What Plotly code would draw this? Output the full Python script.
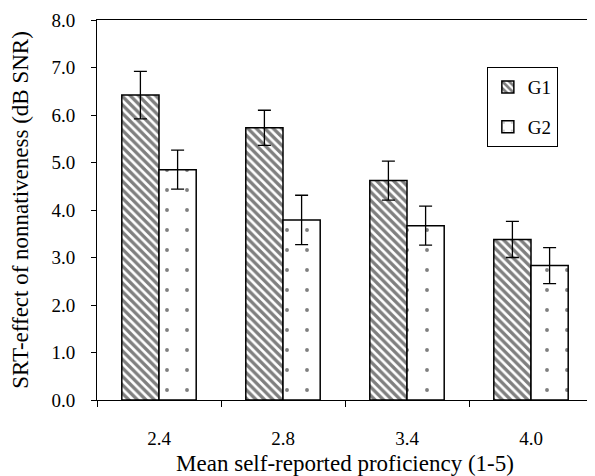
import plotly.graph_objects as go

categories = ["2.4", "2.8", "3.4", "4.0"]
g1_values = [6.42, 5.73, 4.62, 3.38]
g1_errors = [0.50, 0.37, 0.41, 0.38]
g2_values = [4.85, 3.79, 3.67, 2.83]
g2_errors = [0.41, 0.52, 0.41, 0.38]
y_ticks = [0, 1, 2, 3, 4, 5, 6, 7, 8]
y_tick_labels = ["0.0", "1.0", "2.0", "3.0", "4.0", "5.0", "6.0", "7.0", "8.0"]

font_family = "Liberation Serif"

fig = go.Figure()
fig.add_trace(go.Bar(
    name="G1", x=categories, y=g1_values,
    marker=dict(color="white", line=dict(color="black", width=1.5),
                pattern=dict(shape="\\", size=6, solidity=0.55, fgcolor="black", bgcolor="white")),
    error_y=dict(type="data", array=g1_errors, color="black", thickness=1.3, width=6.5),
    legendgroup="a",
))
fig.add_trace(go.Bar(
    name="G2", x=categories, y=g2_values,
    marker=dict(color="white", line=dict(color="black", width=1.5),
                pattern=dict(shape=".", size=20, solidity=0.03, fgcolor="black", bgcolor="white")),
    error_y=dict(type="data", array=g2_errors, color="black", thickness=1.3, width=6.5),
    legendgroup="b",
))

fig.update_layout(
    width=587, height=468,
    margin=dict(l=89, r=2, t=12, b=76),
    paper_bgcolor="white", plot_bgcolor="white",
    font=dict(family=font_family, size=19, color="black"),
    barmode="group", bargap=0.4, bargroupgap=0,
    showlegend=True,
    legend=dict(x=0.786, y=0.876, xanchor="left", yanchor="top",
                bordercolor="black", borderwidth=1, bgcolor="white",
                font=dict(family=font_family, size=19),
                traceorder="grouped", tracegroupgap=12,
                itemwidth=30),
    xaxis=dict(
        type="category", showline=True, linecolor="black", linewidth=1, mirror=True,
        ticks="outside", tickson="boundaries", ticklen=6, tickcolor="black",
        ticklabelstandoff=21,
        title=dict(text="Mean self-reported proficiency (1-5)", standoff=8),
        showgrid=False,
    ),
    yaxis=dict(
        range=[0, 8], tickvals=y_ticks, ticktext=y_tick_labels,
        showline=True, linecolor="black", linewidth=1, mirror=True,
        ticks="outside", ticklen=5, tickcolor="black", showgrid=False, zeroline=False,
        ticklabelstandoff=12,
        title=dict(text="SRT-effect of nonnativeness (dB SNR)", standoff=22),
    ),
)

fig.write_html("out.html")
